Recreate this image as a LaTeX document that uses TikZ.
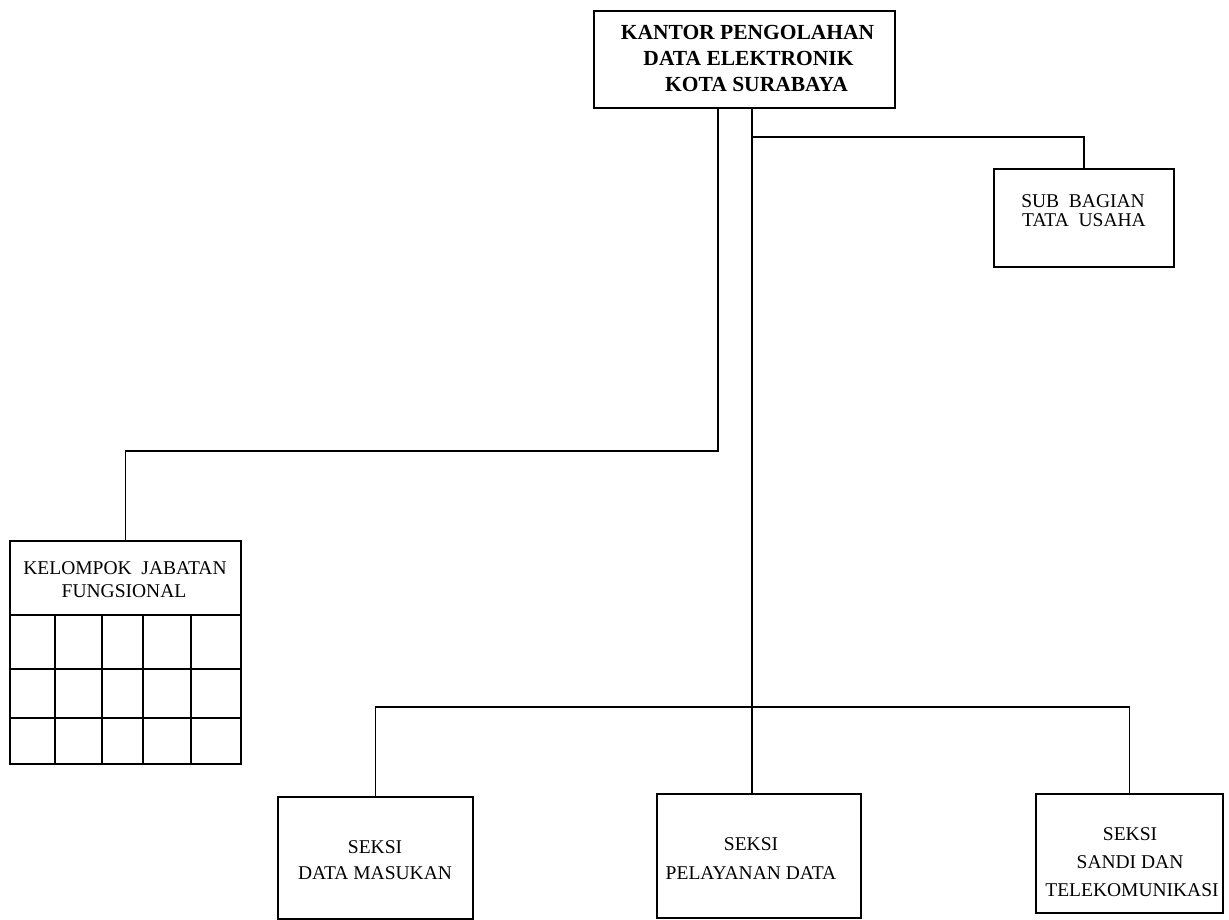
\documentclass[tikz,border=0pt]{standalone}
\usepackage{fontspec}
\setmainfont{Liberation Serif}
\begin{document}
\begin{tikzpicture}[x=1pt,y=-1pt,line width=1.6pt,
  box/.style={draw,rectangle,inner sep=0pt,anchor=north west},
  ttl/.style={anchor=base,inner sep=0pt,font=\bfseries\fontsize{21.5}{26}\selectfont},
  lbl/.style={anchor=base,inner sep=0pt,font=\fontsize{19.5}{24}\selectfont}]
\useasboundingbox (0,0) rectangle (1229,920);
% boxes
\node[box,minimum width=301pt,minimum height=97pt] (kantor) at (593,10) {};
\node[box,minimum width=180pt,minimum height=98pt] (subbag) at (993,168) {};
\node[box,minimum width=231pt,minimum height=223pt] (kelompok) at (9,540) {};
\node[box,minimum width=195pt,minimum height=122pt] (seksi1) at (277,796) {};
\node[box,minimum width=204pt,minimum height=124pt] (seksi2) at (656,793) {};
\node[box,minimum width=187pt,minimum height=119pt] (seksi3) at (1035,793) {};
% grid of kelompok
\draw (9,615) -- (240,615);
\draw (9,669) -- (240,669);
\draw (9,718) -- (240,718);
\foreach \cx in {55,102,143,191} \draw (\cx,615) -- (\cx,763);
% texts
\node[ttl] (t1) at (747.5,40) {KANTOR PENGOLAHAN};
\node[ttl] (t2) at (748.5,66) {DATA ELEKTRONIK};
\node[ttl] (t3) at (756.5,92) {KOTA SURABAYA};
\node[lbl] (s1) at (1083,208) {SUB\ \ BAGIAN};
\node[lbl] (s2) at (1084,227) {TATA\ \ USAHA};
\node[lbl] (k1) at (125,574) {KELOMPOK\ \ JABATAN};
\node[lbl] (k2) at (124,597) {FUNGSIONAL};
\node[lbl] (a1) at (375,853) {SEKSI};
\node[lbl] (a2) at (375,879) {DATA MASUKAN};
\node[lbl] (b1) at (751,850) {SEKSI};
\node[lbl] (b2) at (751,879) {PELAYANAN DATA};
\node[lbl] (c1) at (1130,840) {SEKSI};
\node[lbl] (c2) at (1130,868) {SANDI DAN};
\node[lbl] (c3) at (1132,896) {TELEKOMUNIKASI};
% connectors
\coordinate (jl) at (718,451);
\coordinate (jr) at (752,137);
\coordinate (bus) at (752,707);
\draw (kantor.south -| jl) -- (jl) -| (kelompok.north);
\draw (kantor.south -| jr) -- (bus);
\draw (jr) -| (subbag.north);
\draw (seksi1.north) |- (bus) -| (seksi3.north);
\draw (bus) -- (seksi2.north -| bus);
\end{tikzpicture}
\end{document}
